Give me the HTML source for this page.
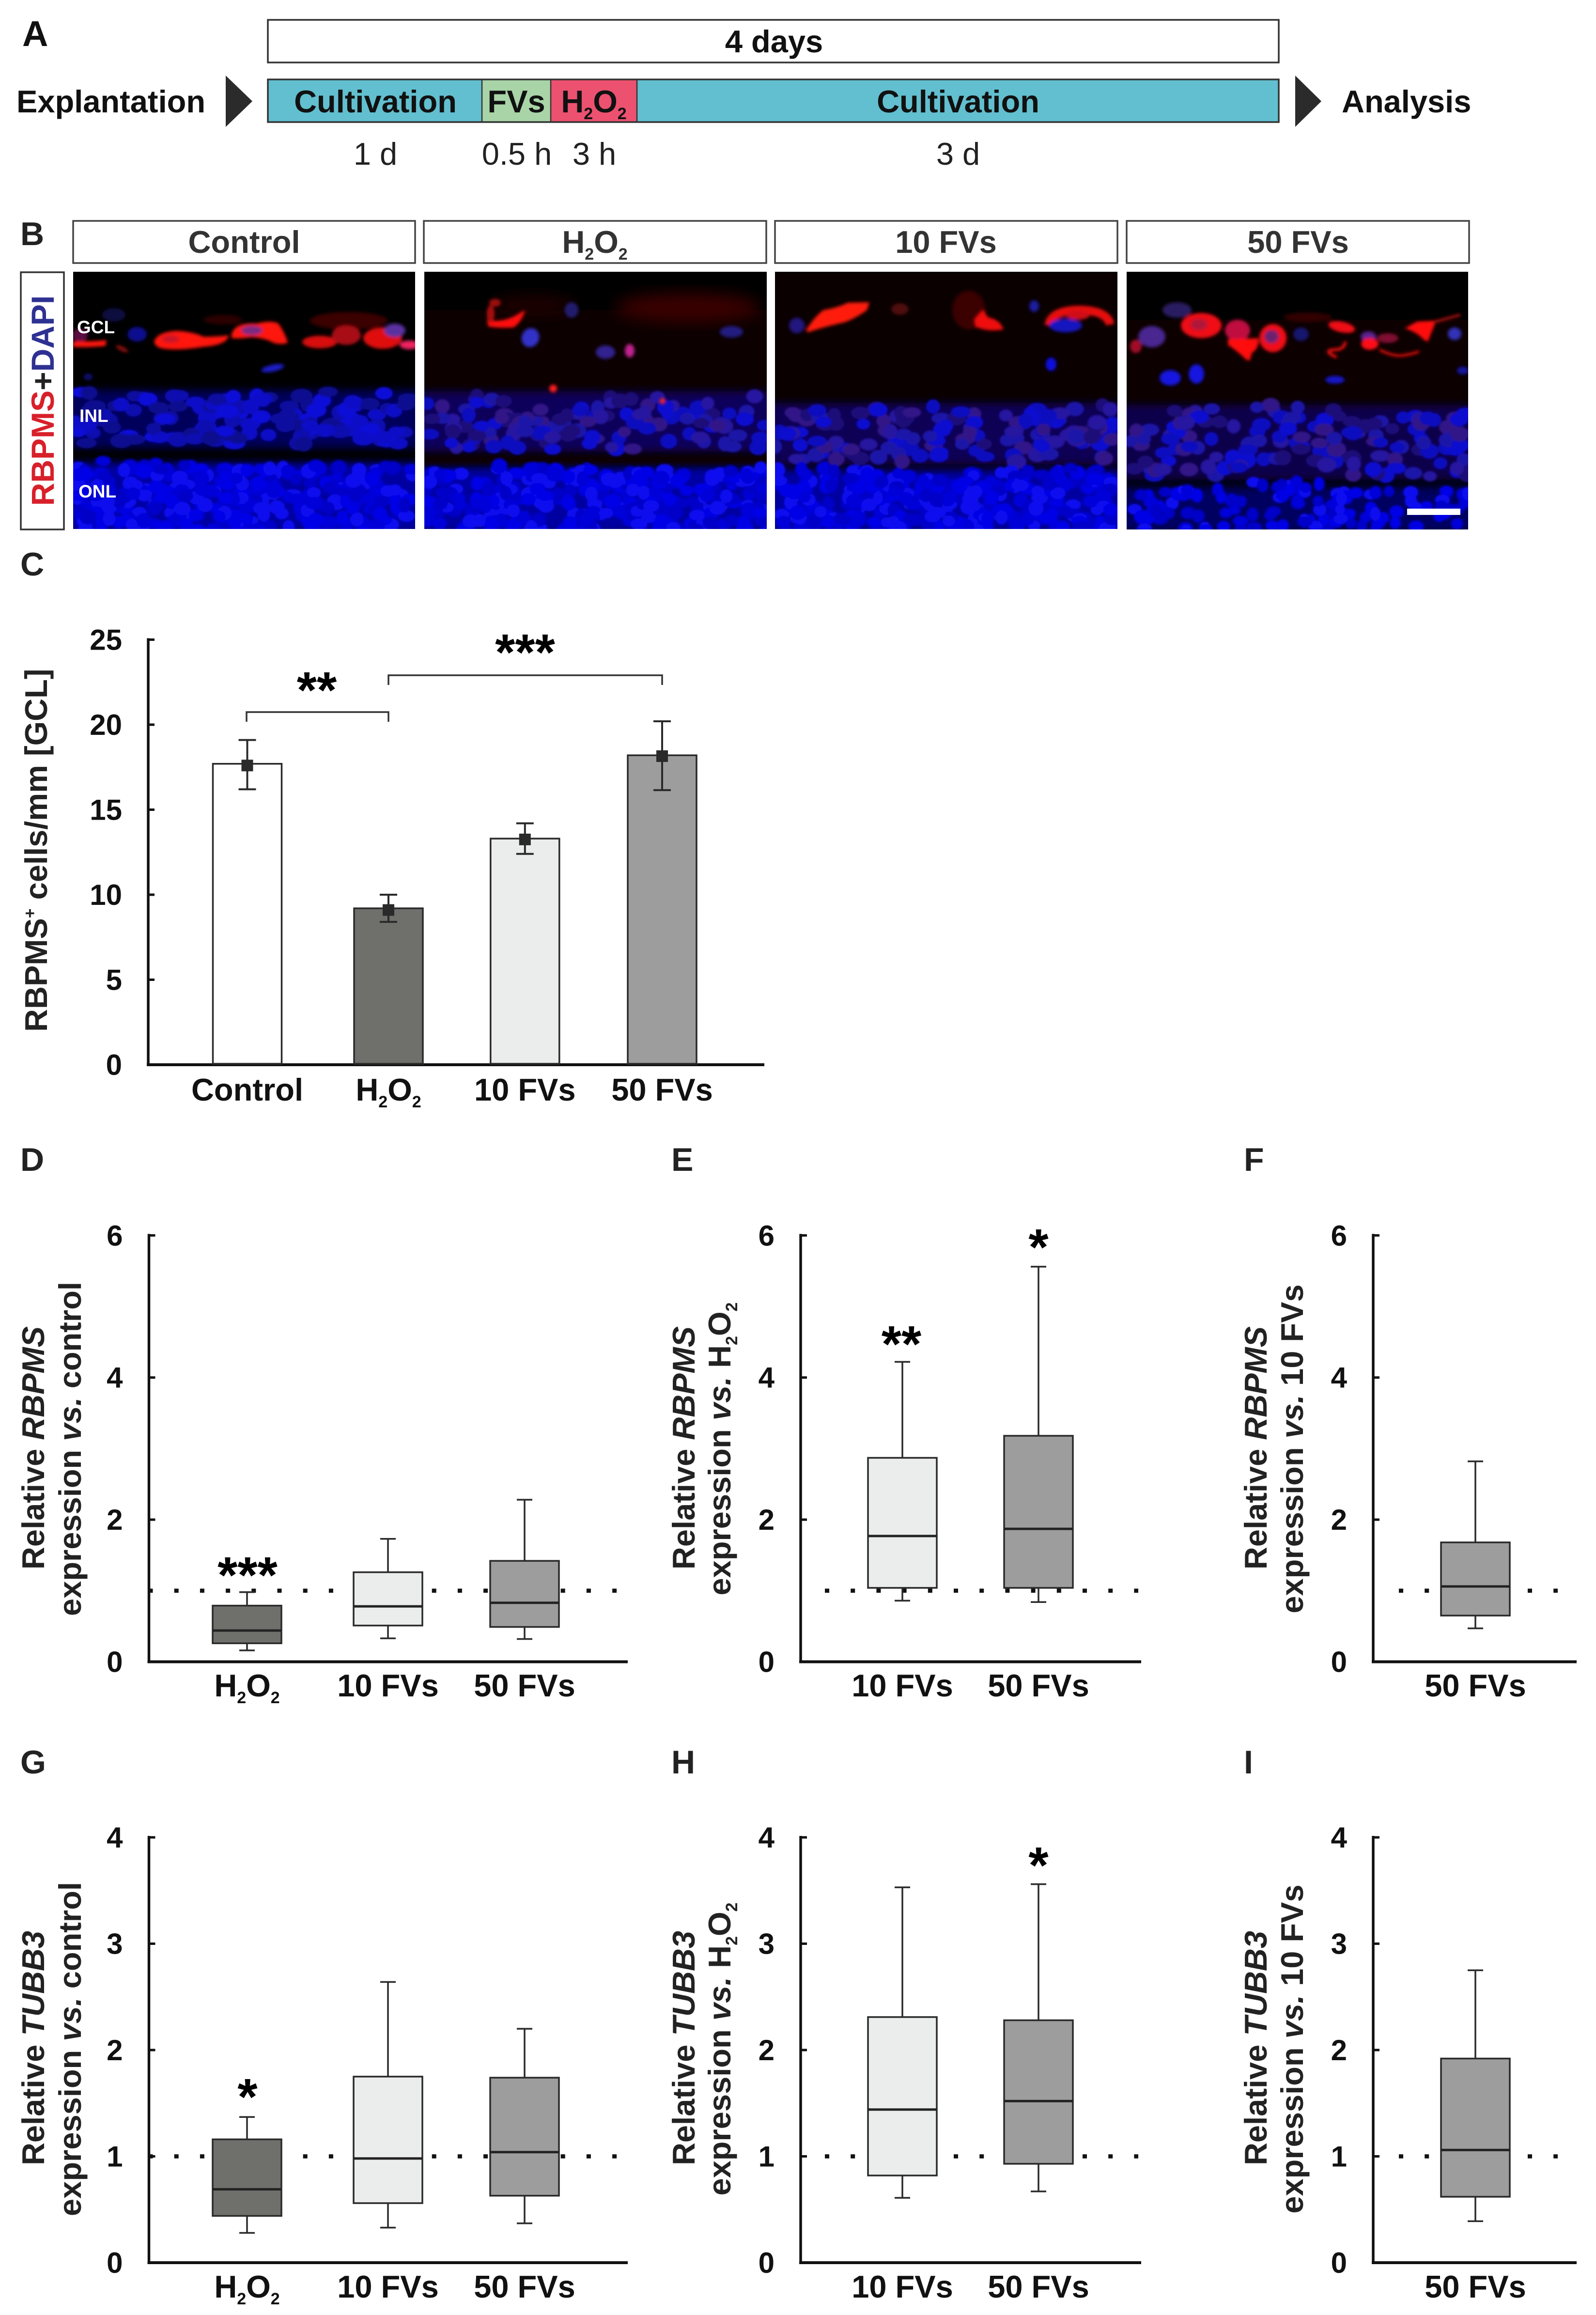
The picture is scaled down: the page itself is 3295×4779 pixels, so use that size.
<!DOCTYPE html>
<html lang="en">
<head>
<meta charset="utf-8">
<title>RBPMS and TUBB3 figure</title>
<style>
html,body{margin:0;padding:0;background:#fff;}
svg{display:block;font-family:"Liberation Sans",Arial,sans-serif;}
</style>
</head>
<body>
<svg id="fig" xmlns="http://www.w3.org/2000/svg" width="3295" height="4779" viewBox="0 0 3295 4779">
<defs>
  <filter id="blurA" x="-30%" y="-30%" width="160%" height="160%"><feGaussianBlur stdDeviation="3.5"/></filter>
  <filter id="blurB" x="-10%" y="-10%" width="120%" height="120%"><feGaussianBlur stdDeviation="2"/></filter>
  <filter id="blurC" x="-30%" y="-30%" width="160%" height="160%"><feGaussianBlur stdDeviation="16"/></filter>
  <filter id="blurD" x="-5%" y="-30%" width="110%" height="160%"><feGaussianBlur stdDeviation="8"/></filter>
  <clipPath id="cp1"><rect x="151" y="561" width="706" height="531"/></clipPath>
  <clipPath id="cp2"><rect x="876" y="561" width="707" height="531"/></clipPath>
  <clipPath id="cp3"><rect x="1600" y="561" width="707" height="531"/></clipPath>
  <clipPath id="cp4"><rect x="2326" y="561" width="705" height="532"/></clipPath>
</defs>

<rect width="3295" height="4779" fill="#fff"/>

<!-- Panel A -->
<g font-weight="700" font-size="65" fill="#111">
  <text x="46" y="95" font-size="74">A</text>
  <rect x="553" y="41" width="2087" height="88" fill="#fff" stroke="#333" stroke-width="3.5"/>
  <text x="1598" y="108" text-anchor="middle">4 days</text>
  <text x="34" y="232">Explantation</text>
  <polygon points="466,156 521,209 466,262" fill="#2b2b2b"/>
  <rect x="553" y="164" width="442" height="88" fill="#62bfcf"/>
  <rect x="995" y="164" width="142" height="88" fill="#a8d4a8"/>
  <rect x="1137" y="164" width="178" height="88" fill="#ec5170"/>
  <rect x="1315" y="164" width="1325" height="88" fill="#62bfcf"/>
  <rect x="553" y="164" width="2087" height="88" fill="none" stroke="#333" stroke-width="3.5"/>
  <line x1="995" x2="995" y1="164" y2="252" stroke="#333" stroke-width="2.5"/>
  <line x1="1137" x2="1137" y1="164" y2="252" stroke="#333" stroke-width="2.5"/>
  <line x1="1315" x2="1315" y1="164" y2="252" stroke="#333" stroke-width="2.5"/>
  <text x="775" y="232" text-anchor="middle">Cultivation</text>
  <text x="1066" y="232" text-anchor="middle">FVs</text>
  <text x="1226" y="232" text-anchor="middle">H<tspan dy="14" font-size="34">2</tspan><tspan dy="-14">O</tspan><tspan dy="14" font-size="34">2</tspan></text>
  <text x="1978" y="232" text-anchor="middle">Cultivation</text>
  <polygon points="2674,156 2728,209 2674,262" fill="#2b2b2b"/>
  <text x="2770" y="232">Analysis</text>
  <g font-weight="400" fill="#222" text-anchor="middle">
    <text x="775" y="340">1 d</text>
    <text x="1067" y="340">0.5 h</text>
    <text x="1227" y="340">3 h</text>
    <text x="1978" y="340">3 d</text>
  </g>
</g>

<!-- Panel B -->
<g font-weight="700" font-size="65" fill="#333" text-anchor="middle">
  <text x="42" y="506" font-size="68" text-anchor="start" fill="#222">B</text>
  <rect x="151" y="456" width="706" height="87" fill="#fff" stroke="#444" stroke-width="3.5"/>
  <rect x="875" y="456" width="707" height="87" fill="#fff" stroke="#444" stroke-width="3.5"/>
  <rect x="1600" y="456" width="707" height="87" fill="#fff" stroke="#444" stroke-width="3.5"/>
  <rect x="2326" y="456" width="707" height="87" fill="#fff" stroke="#444" stroke-width="3.5"/>
  <text x="504" y="522">Control</text>
  <text x="1228" y="522">H<tspan dy="14" font-size="34">2</tspan><tspan dy="-14">O</tspan><tspan dy="14" font-size="34">2</tspan></text>
  <text x="1953" y="522">10 FVs</text>
  <text x="2680" y="522">50 FVs</text>
</g>
<rect x="43" y="562" width="89" height="531" fill="#fff" stroke="#333" stroke-width="3.5"/>
<text transform="translate(111,827) rotate(-90)" text-anchor="middle" font-size="66" font-weight="700"><tspan fill="#d8202a">RBPMS</tspan><tspan fill="#222">+</tspan><tspan fill="#2e3192">DAPI</tspan></text>

<g clip-path="url(#cp1)">
  <rect x="150" y="561" width="707" height="531" fill="#000"/>
  <g id="nuc1" filter="url(#blurB)"></g>
  <g filter="url(#blurA)">
    <ellipse cx="720" cy="662" rx="80" ry="18" fill="#3a0505"/>
    <ellipse cx="460" cy="660" rx="40" ry="10" fill="#2a0505"/>
    <ellipse cx="283" cy="690" rx="20" ry="15" fill="#101090"/>
    <ellipse cx="235" cy="650" rx="24" ry="14" fill="#0a0a40"/>
    <ellipse cx="165" cy="692" rx="16" ry="14" fill="#5a1040"/>
    <path d="M150 705Q190 705 220 702L218 714Q180 718 150 716Z" fill="#ff1408"/>
    <ellipse cx="252" cy="720" rx="14" ry="5" fill="#801010" transform="rotate(25 252 720)"/>
    <path d="M318 705Q325 685 365 683Q400 685 420 695Q450 695 472 692Q470 712 420 716Q370 724 340 720Q320 718 318 705Z" fill="#ff1408"/>
    <ellipse cx="352" cy="700" rx="18" ry="8" fill="#c81428"/>
    <path d="M478 690Q485 665 530 668Q560 660 575 668Q590 690 594 708Q580 712 565 708Q548 698 520 696Q490 700 478 698Z" fill="#ff1408"/>
    <ellipse cx="520" cy="682" rx="22" ry="10" fill="#7a2a80"/>
    <ellipse cx="660" cy="706" rx="36" ry="13" fill="#d81010"/>
    <ellipse cx="715" cy="692" rx="30" ry="20" fill="#a81018"/>
    <ellipse cx="790" cy="698" rx="40" ry="22" fill="#e01010"/>
    <ellipse cx="815" cy="682" rx="22" ry="14" fill="#5a30a0"/>
    <ellipse cx="845" cy="712" rx="20" ry="9" fill="#f02060"/>
    <ellipse cx="563" cy="760" rx="24" ry="7" fill="#1a1ac8" transform="rotate(-12 563 760)"/>
    <ellipse cx="182" cy="778" rx="9" ry="7" fill="#101070"/>
  </g>
</g>

<g clip-path="url(#cp2)">
  <rect x="876" y="561" width="707" height="531" fill="#000"/>
  <rect x="876" y="640" width="707" height="320" fill="#0c0000"/>
  <g filter="url(#blurC)">
    <ellipse cx="1420" cy="635" rx="150" ry="30" fill="#3a0606"/>
    <ellipse cx="1100" cy="630" rx="90" ry="18" fill="#200303"/>
  </g>
  <g id="nuc2" filter="url(#blurB)"></g>
  <g filter="url(#blurA)">
    <path d="M1005 660Q1040 668 1075 645L1085 640Q1075 668 1060 676Q1030 678 1008 674Z" fill="#ff1010"/>
    <ellipse cx="1013" cy="648" rx="8" ry="18" fill="#a81010"/>
    <ellipse cx="1022" cy="625" rx="12" ry="8" fill="#a01010"/>
    <ellipse cx="1095" cy="697" rx="18" ry="20" fill="#3030c8" transform="rotate(25 1095 697)"/>
    <ellipse cx="1250" cy="727" rx="20" ry="14" fill="#302090"/>
    <ellipse cx="1300" cy="724" rx="10" ry="14" fill="#c02090"/>
    <ellipse cx="1180" cy="640" rx="14" ry="16" fill="#201a70"/>
    <ellipse cx="1510" cy="685" rx="24" ry="12" fill="#201a80"/>
    <ellipse cx="1142" cy="802" rx="8" ry="8" fill="#ff1a1a"/>
    <ellipse cx="1368" cy="828" rx="6" ry="6" fill="#ff2020"/>
  </g>
</g>

<g clip-path="url(#cp3)">
  <rect x="1600" y="561" width="707" height="531" fill="#0a0000"/>
  <g id="nuc3" filter="url(#blurB)"></g>
  <g filter="url(#blurA)">
    <ellipse cx="2000" cy="640" rx="34" ry="40" fill="#3a0505"/>
    <ellipse cx="1858" cy="638" rx="18" ry="12" fill="#500808"/>
    <path d="M1664 682Q1680 655 1700 640Q1730 635 1750 625L1795 624L1790 640Q1770 655 1745 665Q1700 675 1668 686Z" fill="#ff1a0a"/>
    <path d="M2012 660Q2020 650 2030 640L2040 655Q2065 660 2072 680Q2040 686 2015 675Z" fill="#f01010"/>
    <path d="M2165 672Q2170 642 2225 640Q2285 640 2292 670" fill="none" stroke="#e81010" stroke-width="18"/>
    <ellipse cx="2225" cy="650" rx="25" ry="10" fill="#d01018"/>
    <ellipse cx="2200" cy="672" rx="34" ry="14" fill="#1818c0"/>
    <ellipse cx="1645" cy="672" rx="16" ry="16" fill="#201880"/>
    <ellipse cx="2135" cy="632" rx="10" ry="12" fill="#1a1aa0"/>
    <ellipse cx="2170" cy="752" rx="11" ry="14" fill="#1010e0"/>
  </g>
</g>

<g clip-path="url(#cp4)">
  <rect x="2326" y="561" width="707" height="532" fill="#000"/>
  <rect x="2326" y="660" width="707" height="200" fill="#0c0000"/>
  <g id="nuc4" filter="url(#blurB)"></g>
  <g filter="url(#blurA)">
    <ellipse cx="2430" cy="640" rx="30" ry="16" fill="#2a1a60"/>
    <ellipse cx="2378" cy="695" rx="28" ry="22" fill="#4a2890"/>
    <ellipse cx="2345" cy="715" rx="12" ry="14" fill="#a01028"/>
    <ellipse cx="2480" cy="672" rx="42" ry="26" fill="#f01012"/>
    <ellipse cx="2475" cy="670" rx="18" ry="12" fill="#b01838"/>
    <ellipse cx="2555" cy="682" rx="26" ry="22" fill="#c01040"/>
    <path d="M2535 700L2598 698Q2600 720 2585 728L2580 745L2572 742Q2555 725 2535 712Z" fill="#ff1010"/>
    <ellipse cx="2628" cy="698" rx="28" ry="29" fill="#f01018"/>
    <ellipse cx="2625" cy="695" rx="15" ry="14" fill="#6a2070"/>
    <ellipse cx="2686" cy="690" rx="16" ry="14" fill="#141470"/>
    <ellipse cx="2770" cy="675" rx="28" ry="11" fill="#f01014" transform="rotate(12 2770 675)"/>
    <ellipse cx="2700" cy="655" rx="50" ry="10" fill="#300606"/>
    <path d="M2778 705Q2775 722 2755 722Q2738 722 2745 730L2760 738" fill="none" stroke="#f01010" stroke-width="6"/>
    <ellipse cx="2825" cy="695" rx="16" ry="11" fill="#5a2090"/>
    <ellipse cx="2828" cy="710" rx="18" ry="12" fill="#ff1018"/>
    <ellipse cx="2865" cy="698" rx="22" ry="10" fill="#801030"/>
    <path d="M2848 722Q2880 738 2900 733Q2920 730 2930 725" fill="none" stroke="#f01010" stroke-width="5"/>
    <path d="M2900 678L2925 664L2965 662L2948 705L2940 702Q2925 685 2900 678Z" fill="#ff1010"/>
    <path d="M2960 665L3015 650" fill="none" stroke="#a01010" stroke-width="6"/>
    <ellipse cx="3003" cy="689" rx="14" ry="13" fill="#3030b8"/>
    <ellipse cx="2416" cy="780" rx="22" ry="16" fill="#1414e0"/>
    <ellipse cx="2470" cy="772" rx="16" ry="20" fill="#1414e0"/>
    <ellipse cx="2756" cy="784" rx="20" ry="8" fill="#1414c8"/>
    <ellipse cx="3020" cy="765" rx="12" ry="8" fill="#1414a0"/>
  </g>
  <rect x="2905" y="1050" width="110" height="13" fill="#fff"/>
</g>

<g fill="#fff" font-weight="700" font-size="37">
  <text x="159" y="688">GCL</text>
  <text x="164" y="871">INL</text>
  <text x="162" y="1027">ONL</text>
</g>

<text x="42" y="1188" font-size="68" font-weight="700" fill="#222">C</text>
<text x="42" y="2417" font-size="68" font-weight="700" fill="#222">D</text>
<text x="1386" y="2417" font-size="68" font-weight="700" fill="#222">E</text>
<text x="2568" y="2417" font-size="68" font-weight="700" fill="#222">F</text>
<text x="42" y="3661" font-size="68" font-weight="700" fill="#222">G</text>
<text x="1386" y="3661" font-size="68" font-weight="700" fill="#222">H</text>
<text x="2568" y="3661" font-size="68" font-weight="700" fill="#222">I</text>

<g id="charts"></g>
</svg>

<script>
/* ---------- Chart C data ---------- */
var barCategories = ['Control', 'H2O2', '10 FVs', '50 FVs'];
var barValues = [17.7, 9.2, 13.3, 18.2];
var barMeans = [17.6, 9.1, 13.25, 18.15];
var barErrLow = [16.2, 8.4, 12.4, 16.15];
var barErrHigh = [19.1, 10.0, 14.2, 20.2];
var barTicks = [0, 5, 10, 15, 20, 25];

/* ---------- Box chart data (RBPMS) ---------- */
var rbpmsTicks = [0, 2, 4, 6];
var dCategories = ['H2O2', '10 FVs', '50 FVs'];
var dLow = [0.16, 0.33, 0.32];
var dQ1 = [0.26, 0.51, 0.49];
var dMedian = [0.44, 0.78, 0.83];
var dQ3 = [0.79, 1.26, 1.42];
var dHigh = [0.98, 1.73, 2.28];

var eCategories = ['10 FVs', '50 FVs'];
var eLow = [0.86, 0.84];
var eQ1 = [1.04, 1.04];
var eMedian = [1.77, 1.87];
var eQ3 = [2.87, 3.18];
var eHigh = [4.22, 5.56];

var fCategories = ['50 FVs'];
var fLow = [0.47];
var fQ1 = [0.65];
var fMedian = [1.06];
var fQ3 = [1.68];
var fHigh = [2.82];

/* ---------- Box chart data (TUBB3) ---------- */
var tubb3Ticks = [0, 1, 2, 3, 4];
var gCategories = ['H2O2', '10 FVs', '50 FVs'];
var gLow = [0.28, 0.33, 0.37];
var gQ1 = [0.44, 0.56, 0.63];
var gMedian = [0.69, 0.98, 1.04];
var gQ3 = [1.16, 1.75, 1.74];
var gHigh = [1.37, 2.64, 2.20];

var hCategories = ['10 FVs', '50 FVs'];
var hLow = [0.61, 0.67];
var hQ1 = [0.82, 0.93];
var hMedian = [1.44, 1.52];
var hQ3 = [2.31, 2.28];
var hHigh = [3.53, 3.56];

var iCategories = ['50 FVs'];
var iLow = [0.39];
var iQ1 = [0.62];
var iMedian = [1.06];
var iQ3 = [1.92];
var iHigh = [2.75];

var NS = 'http://www.w3.org/2000/svg';
var INK = '#111';
var FILLS = {'Control': '#ffffff', 'H2O2': '#6f706c', '10 FVs': '#ebecec', '50 FVs': '#9c9d9c'};
var charts = document.getElementById('charts');

function mk(tag, attrs, parent) {
  var el = document.createElementNS(NS, tag);
  for (var k in attrs) el.setAttribute(k, attrs[k]);
  (parent || charts).appendChild(el);
  return el;
}
function sub(el, text, dy, size) {
  var t = document.createElementNS(NS, 'tspan');
  if (dy) t.setAttribute('dy', dy);
  if (size) t.setAttribute('font-size', size);
  t.textContent = text;
  el.appendChild(t);
}
function label(el, text) {
  if (text === 'H2O2') {
    sub(el, 'H'); sub(el, '2', 14, 34); sub(el, 'O', -14); sub(el, '2', 14, 34);
  } else {
    el.textContent = text;
  }
}

/* Shared axes: returns a value→pixel function */
function drawAxes(name, cfg, ticks, g) {
  var scale = function (v) { return cfg.y0 - v * cfg.unit; };
  var top = scale(ticks[ticks.length - 1]) - 3;
  var yLine = mk('line', {x1: cfg.x, x2: cfg.x, y1: top, y2: cfg.y0 + 3, stroke: INK, 'stroke-width': 5.5}, g);
  
  
  var xLine = mk('line', {x1: cfg.x - 3, x2: cfg.right, y1: cfg.y0, y2: cfg.y0, stroke: INK, 'stroke-width': 6}, g);
  
  
  ticks.forEach(function (t) {
    var mark = mk('line', {x1: cfg.x, x2: cfg.x + 13, y1: scale(t), y2: scale(t), stroke: INK, 'stroke-width': 5}, g);
    
    
    var tl = mk('text', {x: cfg.x - 54, y: scale(t) + 21, 'text-anchor': 'end', 'font-size': 60, 'font-weight': 700, fill: INK}, g);
    
    
    tl.textContent = String(t);
  });
  return scale;
}
function drawCategoryLabels(name, cats, xOf, y, g) {
  cats.forEach(function (c, i) {
    var t = mk('text', {x: xOf(i), y: y, 'text-anchor': 'middle', 'font-size': 65, 'font-weight': 700, fill: INK}, g);
    
    
    label(t, c);
  });
}
function drawStars(name, x, yCenter, stars, g) {
  var t = mk('text', {x: x, y: yCenter + 50, 'text-anchor': 'middle', 'font-size': 106, 'font-weight': 700, fill: '#000'}, g);
  
  
  t.textContent = stars;
}

/* Slightly uneven category spacing of the original figure, in step units */
var slotsFour = [0, 1.021, 2.008, 3];
var slotsThree = [0, 1.0157, 2];
var slotsEven = [0, 1];

/* ---------- Panel C ---------- */
(function () {
  var g = mk('g', {});
  
  
  var y = drawAxes('chart-c', {x: 306, y0: 2198, unit: 35.1, right: 1578}, barTicks, g);
  var centers = function (i) { return 510.5 + slotsFour[i] * 285.5; };
  barCategories.forEach(function (c, i) {
    var cx = centers(i);
    var bar = mk('rect', {x: cx - 71, y: y(barValues[i]), width: 142, height: y(0) - y(barValues[i]) - 2, fill: FILLS[c], stroke: '#2a2a2a', 'stroke-width': 3.5}, g);
    
    
    var err = mk('path', {d: 'M' + cx + ' ' + y(barErrLow[i]) + 'V' + y(barErrHigh[i]) + 'M' + (cx - 18) + ' ' + y(barErrLow[i]) + 'h36M' + (cx - 18) + ' ' + y(barErrHigh[i]) + 'h36', fill: 'none', stroke: '#2a2a2a', 'stroke-width': 4}, g);
    
    
    var m = mk('rect', {x: cx - 12, y: y(barMeans[i]) - 12, width: 24, height: 24, fill: '#2a2a2a'}, g);
    
    
  });
  drawCategoryLabels('chart-c', barCategories, centers, 2272, g);
  var b1 = mk('path', {d: 'M509 1490V1470H802V1490', fill: 'none', stroke: '#333', 'stroke-width': 3.5}, g);
  
  
  var b2 = mk('path', {d: 'M802 1414V1394H1367V1414', fill: 'none', stroke: '#333', 'stroke-width': 3.5}, g);
  
  
  drawStars('chart-c-control-h2o2', 654, 1411, '**', g);
  drawStars('chart-c-h2o2-50fvs', 1084, 1333, '***', g);
  var yt = mk('text', {transform: 'translate(97,2130) rotate(-90)', 'text-anchor': 'start', 'font-size': 65, 'font-weight': 700, fill: '#222'}, g);
  
  
  sub(yt, 'RBPMS'); sub(yt, '+', -24, 34); sub(yt, ' cells/mm [GCL]', 24);
})();

/* ---------- Box plots ---------- */
function drawBoxChart(name, cfg, ticks, cats, low, q1, med, q3, high) {
  var g = mk('g', {});
  
  
  var y = drawAxes('chart-' + name, cfg, ticks, g);
  var xOf = function (i) { return cfg.first + cfg.slots[i] * cfg.step; };
  var ref = mk('line', {x1: cfg.dotFrom, x2: cfg.dotTo, y1: y(1), y2: y(1), stroke: INK, 'stroke-width': 8.5, 'stroke-dasharray': '9 44.2'}, g);
  
  
  cats.forEach(function (c, i) {
    var cx = xOf(i);
    var w = mk('path', {d: 'M' + cx + ' ' + y(low[i]) + 'V' + y(high[i]) + 'M' + (cx - 16) + ' ' + y(low[i]) + 'h32M' + (cx - 16) + ' ' + y(high[i]) + 'h32', fill: 'none', stroke: '#2a2a2a', 'stroke-width': 3.5}, g);
    
    
    var b = mk('rect', {x: cx - 71, y: y(q3[i]), width: 142, height: y(q1[i]) - y(q3[i]), fill: FILLS[c], stroke: '#2a2a2a', 'stroke-width': 3.5}, g);
    
    
    var m = mk('line', {x1: cx - 71, x2: cx + 71, y1: y(med[i]), y2: y(med[i]), stroke: '#222', 'stroke-width': 5}, g);
    
    
  });
  drawCategoryLabels('chart-' + name, cats, xOf, cfg.labelY, g);
  return g;
}
function drawBoxTitle(name, g, x1, x2, yc, gene, ref) {
  var t1 = mk('text', {transform: 'translate(' + x1 + ',' + (yc - 2) + ') rotate(-90)', 'text-anchor': 'middle', 'font-size': 65, 'font-weight': 700, fill: '#222'}, g);
  
  
  sub(t1, 'Relative ');
  var it = document.createElementNS(NS, 'tspan');
  it.setAttribute('font-style', 'italic');
  it.textContent = gene;
  t1.appendChild(it);
  var t2 = mk('text', {transform: 'translate(' + x2 + ',' + yc + ') rotate(-90)', 'text-anchor': 'middle', 'font-size': 65, 'font-weight': 700, fill: '#222'}, g);
  
  
  sub(t2, 'expression ');
  var it2 = document.createElementNS(NS, 'tspan');
  it2.setAttribute('font-style', 'italic');
  it2.textContent = 'vs.';
  t2.appendChild(it2);
  sub(t2, ' ');
  if (ref === 'H2O2') {
    label(t2, 'H2O2');
  } else {
    sub(t2, ref);
  }
}

var rowTop = {y0: 3430.5, unit: 146.7, labelY: 3502};
var rowBot = {y0: 4671, unit: 219.5, labelY: 4743};
function cfg(row, x, right, first, step, slots, dotFrom, dotTo) {
  return {x: x, right: right, first: first, step: step, slots: slots, dotFrom: dotFrom, dotTo: dotTo, y0: row.y0, unit: row.unit, labelY: row.labelY};
}

var gD = drawBoxChart('d', cfg(rowTop, 307.5, 1296, 510, 286.5, slotsThree, 306.5, 1275), rbpmsTicks, dCategories, dLow, dQ1, dMedian, dQ3, dHigh);
drawBoxTitle('d', gD, 91, 167, 2991, 'RBPMS', 'control');
drawStars('chart-d-h2o2', 511, 3238, '***', gD);

var gE = drawBoxChart('e', cfg(rowTop, 1653, 2356, 1863, 281, slotsEven, 1703, 2350), rbpmsTicks, eCategories, eLow, eQ1, eMedian, eQ3, eHigh);
drawBoxTitle('e', gE, 1434, 1508, 2991, 'RBPMS', 'H2O2');
drawStars('chart-e-10fvs', 1861, 2761, '**', gE);
drawStars('chart-e-50fvs', 2144, 2561, '*', gE);

var gF = drawBoxChart('f', cfg(rowTop, 2835, 3255, 3046, 0, slotsEven, 2888, 3216), rbpmsTicks, fCategories, fLow, fQ1, fMedian, fQ3, fHigh);
drawBoxTitle('f', gF, 2615, 2690, 2991, 'RBPMS', '10 FVs');

var gG = drawBoxChart('g', cfg(rowBot, 307.5, 1296, 510, 286.5, slotsThree, 306.5, 1275), tubb3Ticks, gCategories, gLow, gQ1, gMedian, gQ3, gHigh);
drawBoxTitle('g', gG, 91, 167, 4230, 'TUBB3', 'control');
drawStars('chart-g-h2o2', 511, 4315, '*', gG);

var gH = drawBoxChart('h', cfg(rowBot, 1653, 2356, 1863, 281, slotsEven, 1703, 2350), tubb3Ticks, hCategories, hLow, hQ1, hMedian, hQ3, hHigh);
drawBoxTitle('h', gH, 1434, 1508, 4230, 'TUBB3', 'H2O2');
drawStars('chart-h-50fvs', 2144, 3837, '*', gH);

var gI = drawBoxChart('i', cfg(rowBot, 2835, 3255, 3046, 0, slotsEven, 2888, 3216), tubb3Ticks, iCategories, iLow, iQ1, iMedian, iQ3, iHigh);
drawBoxTitle('i', gI, 2615, 2690, 4230, 'TUBB3', '10 FVs');

/* ---------- Micrograph nuclei texture (decorative, not chart data) ---------- */
function speckle(seed) {
  var s = seed * 2654435 % 4294967296;
  return function () { s = (s * 1664525 + 1013904223) % 4294967296; return s / 4294967296; };
}
function nucleiGlow(id, px, y0, y1, color) {
  var parent = document.getElementById(id);
  var rect = document.createElementNS(NS, 'rect');
  rect.setAttribute('x', px - 30);
  rect.setAttribute('y', y0);
  rect.setAttribute('width', 767);
  rect.setAttribute('height', y1 - y0);
  rect.setAttribute('fill', color);
  rect.setAttribute('filter', 'url(#blurD)');
  
  
  parent.appendChild(rect);
}
function nucleiBand(id, seed, px, y0, y1, count, rx, ry, colors, wave) {
  var parent = document.getElementById(id);
  var r = speckle(seed);
  for (var n = 0; n < count; n++) {
    var x = px + r() * 707;
    var top = y0 + wave * Math.sin((x - px) / 95 + seed);
    var y = top + r() * (y1 - top);
    var e = document.createElementNS(NS, 'ellipse');
    e.setAttribute('cx', x.toFixed(1));
    e.setAttribute('cy', y.toFixed(1));
    e.setAttribute('rx', (rx * (0.8 + r() * 0.4)).toFixed(1));
    e.setAttribute('ry', (ry * (0.8 + r() * 0.4)).toFixed(1));
    e.setAttribute('fill', colors[Math.floor(r() * colors.length)]);
    
    
    parent.appendChild(e);
  }
}
var brightBlues = ['#0000e6', '#0a0af0', '#0000d8', '#0000c8'];
var midBlues = ['#0c0cc8', '#1010b0', '#0808a0', '#0c0cd8', '#0c0c90'];
var purpleBlues = ['#1c14a8', '#2818a0', '#1010c0', '#0c0cd0', '#301888', '#1a1078'];

nucleiGlow('nuc1', 150, 805, 925, '#00005a');
nucleiGlow('nuc1', 150, 955, 1100, '#0000a0');
nucleiBand('nuc1', 11, 150, 812, 918, 125, 19, 13, midBlues, 6);
nucleiBand('nuc1', 23, 150, 958, 1096, 290, 15, 13, brightBlues, 7);

nucleiGlow('nuc2', 876, 808, 932, '#10005a');
nucleiGlow('nuc2', 876, 965, 1100, '#0000a0');
nucleiBand('nuc2', 37, 876, 815, 928, 120, 16, 13, purpleBlues, 5);
nucleiBand('nuc2', 41, 876, 966, 1096, 290, 15, 13, brightBlues, 5);

nucleiGlow('nuc3', 1600, 832, 958, '#0c0054');
nucleiGlow('nuc3', 1600, 970, 1100, '#0000a0');
nucleiBand('nuc3', 53, 1600, 838, 955, 125, 17, 13, purpleBlues, 6);
nucleiBand('nuc3', 67, 1600, 970, 1096, 290, 15, 13, brightBlues, 5);

nucleiGlow('nuc4', 2326, 836, 990, '#10004c');
nucleiGlow('nuc4', 2326, 1005, 1100, '#000060');
nucleiBand('nuc4', 71, 2326, 842, 988, 135, 17, 13, purpleBlues, 7);
nucleiBand('nuc4', 83, 2326, 1003, 1096, 120, 13, 12, brightBlues, 10);
</script>
</body>
</html>
